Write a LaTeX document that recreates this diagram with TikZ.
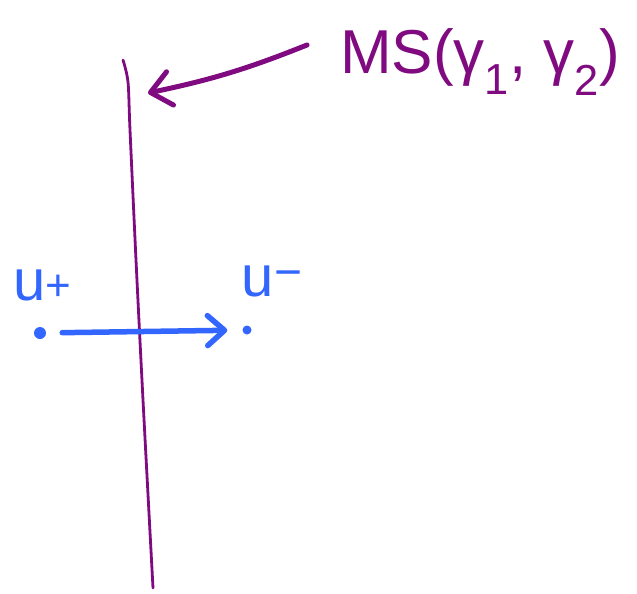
\documentclass[tikz,border=0pt]{standalone}
\usepackage{fontspec}
\setmainfont{Liberation Sans}
\usetikzlibrary{arrows.meta}
\definecolor{ink}{HTML}{800A80}
\definecolor{blu}{HTML}{3366FF}
\tikzset{
  purpleline/.style={draw=ink, line width=2.8pt, line cap=round},
  purplearrow/.style={draw=ink, line width=5pt, line cap=round, line join=round,
    -{Straight Barb[length=20pt,width=34pt,line cap=round,line join=round]}},
  bluearrow/.style={draw=blu, line width=5.5pt, line cap=round, line join=round,
    -{Straight Barb[length=17pt,width=30pt,line cap=round,line join=round]}},
  dot/.style={circle, fill=blu, inner sep=0pt},
  bluelabel/.style={text=blu, inner sep=0pt, font=\fontsize{58}{58}\selectfont},
  purplelabel/.style={text=ink, inner sep=0pt, font=\fontsize{62}{62}\selectfont}
}
\begin{document}
\begin{tikzpicture}[x=1pt,y=-1pt]
\useasboundingbox (0,0) rectangle (637,594);
% vertical curve
\draw[purpleline] plot[smooth] coordinates {(123,60) (128,82) (130,130) (136,260) (143,400) (153,588)};
% label
\node[purplelabel, anchor=west] (ms) at (340,62) {MS(γ\textsubscript{1}, γ\textsubscript{2})};
\coordinate (src) at (307,45);
\coordinate (hit) at (148,93);
\draw[purplearrow] (src) to[bend left=5] (hit);
% blue points
\node[dot, minimum size=12pt] (up) at (40,333) {};
\node[dot, minimum size=9pt] (um) at (247,330) {};
\node[bluelabel] (lup) at (42,285) {u{\fontsize{44}{44}\selectfont+}};
\node[bluelabel] (lum) at (272,281) {u{\fontsize{48}{48}\selectfont\raisebox{8pt}{−}}};
\draw[bluearrow, shorten <=16pt, shorten >=15pt] (up) -- (um);
\end{tikzpicture}
\end{document}
